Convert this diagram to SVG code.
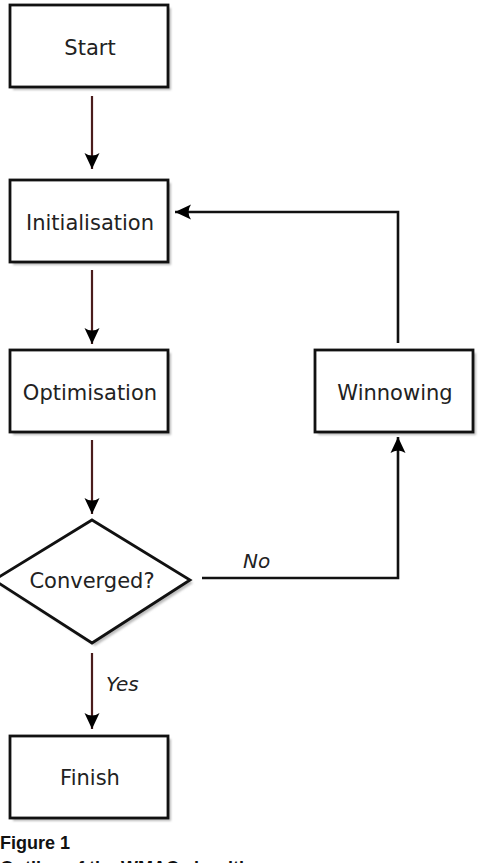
<svg xmlns="http://www.w3.org/2000/svg" width="482" height="863" viewBox="0 0 482 863">
<style>
.box{fill:#fff;stroke:#111;stroke-width:2.8}
.shadow{fill:#bbb;filter:url(#blur)}
.lbl{font-family:"DejaVu Sans",sans-serif;font-size:21px;fill:#222;text-anchor:middle}
.edge{font-family:"DejaVu Sans",sans-serif;font-size:20px;font-style:italic;fill:#222}
.down{stroke:#4a1c1c;stroke-width:2.2;fill:none}
.blk{stroke:#111;stroke-width:2.6;fill:none}
.cap{font-family:"Liberation Sans",sans-serif;font-weight:bold;font-size:18px;fill:#111}
</style>
<defs>
<filter id="blur" x="-10%" y="-10%" width="120%" height="120%"><feGaussianBlur stdDeviation="1.2"/></filter>
<marker id="ah" markerUnits="userSpaceOnUse" markerWidth="22" markerHeight="22" viewBox="-18 -11 22 22" refX="0" refY="0" orient="auto">
<path d="M0,0 L-16,-7.5 Q-11,0 -16,7.5 Z" fill="#000"/>
</marker>
</defs>
<rect width="482" height="863" fill="#fff"/>
<g id="start"><rect class="shadow" x="13" y="8" width="158" height="82"/><rect class="box" x="10" y="5" width="158" height="82"/><text class="lbl" x="90" y="55">Start</text></g>
<g id="init"><rect class="shadow" x="13" y="183" width="158" height="82"/><rect class="box" x="10" y="180" width="158" height="82"/><text class="lbl" x="90" y="230">Initialisation</text></g>
<g id="opt"><rect class="shadow" x="13" y="353" width="158" height="82"/><rect class="box" x="10" y="350" width="158" height="82"/><text class="lbl" x="90" y="400">Optimisation</text></g>
<g id="winnow"><rect class="shadow" x="318" y="353" width="158" height="82"/><rect class="box" x="315" y="350" width="158" height="82"/><text class="lbl" x="395" y="400">Winnowing</text></g>
<g id="conv"><path class="shadow" d="M95,523 L193,583 L95,646 L-3,583 Z"/><path class="box" d="M92,520 L190,580 L92,643 L-6,580 Z"/><text class="lbl" x="92" y="588">Converged?</text></g>
<g id="finish"><rect class="shadow" x="13" y="739" width="158" height="82"/><rect class="box" x="10" y="736" width="158" height="82"/><text class="lbl" x="90" y="785">Finish</text></g>
<g id="connectors">
<line class="down" x1="92" y1="96" x2="92" y2="169" marker-end="url(#ah)"/>
<line class="down" x1="92" y1="270" x2="92" y2="344" marker-end="url(#ah)"/>
<line class="down" x1="92" y1="440" x2="92" y2="514" marker-end="url(#ah)"/>
<line class="down" x1="92" y1="653" x2="92" y2="729" marker-end="url(#ah)"/>
<polyline class="blk" points="202,578 398,578 398,437" marker-end="url(#ah)"/>
<polyline class="blk" points="398,343 398,212 175,212" marker-end="url(#ah)"/>
<text class="edge" x="243" y="568">No</text>
<text class="edge" x="106" y="691">Yes</text>
</g>
<g id="caption">
<text class="cap" x="0" y="849">Figure 1</text>
<text class="cap" x="0" y="874">Outline of the WMAC algorithm</text>
</g>
</svg>
